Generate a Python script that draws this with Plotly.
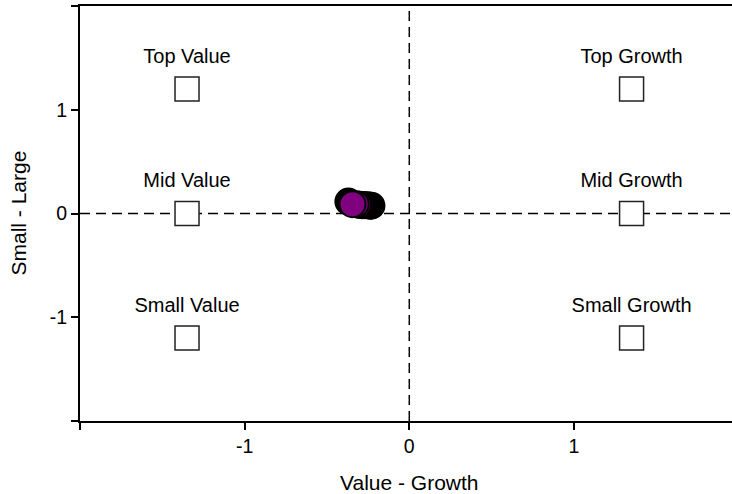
import plotly.graph_objects as go

# style-box anchors
box_x = [-1.35, -1.35, -1.35, 1.35, 1.35, 1.35]
box_y = [1.2, 0.0, -1.2, 1.2, 0.0, -1.2]
box_labels = ["Top Value", "Mid Value", "Small Value", "Top Growth", "Mid Growth", "Small Growth"]
label_y = [1.5, 0.3, -0.9, 1.5, 0.3, -0.9]

# rolling style positions, oldest first, latest last
drift_x = [-0.37, -0.23, -0.24, -0.255, -0.27, -0.285, -0.3, -0.31, -0.325, -0.345]
drift_y = [0.115, 0.075, 0.075, 0.08, 0.08, 0.08, 0.085, 0.085, 0.09, 0.09]
drift_color = ["black"] * 6 + ["purple"] * 4

tick_vals = [-2, -1, 0, 1, 2]
tick_text = ["", "-1", "0", "1", ""]

FONT = "Liberation Sans, Arial, sans-serif"

fig = go.Figure()
fig.add_trace(go.Scatter(
    x=box_x, y=box_y, mode="markers",
    marker=dict(symbol="square", size=24, color="white",
                line=dict(color="#222", width=1.5)),
    hoverinfo="skip",
))
fig.add_trace(go.Scatter(
    x=box_x, y=label_y, mode="text", text=box_labels,
    textfont=dict(family=FONT, size=20, color="black"),
    hoverinfo="skip",
))
fig.add_trace(go.Scatter(
    x=drift_x, y=drift_y, mode="markers",
    marker=dict(size=26, color=drift_color, line=dict(color="black", width=2)),
))

fig.add_shape(type="line", xref="x", yref="paper", x0=0, x1=0, y0=0, y1=1,
              line=dict(color="black", width=1.5, dash="10px,6px"), layer="below")
fig.add_shape(type="line", xref="paper", yref="y", x0=0, x1=1, y0=0, y1=0,
              line=dict(color="black", width=1.5, dash="10px,6px"), layer="below")

# axis titles placed by hand
fig.add_annotation(text="Value - Growth", xref="x", x=0, yref="paper", y=0,
                   yanchor="middle", yshift=-61, showarrow=False,
                   font=dict(family=FONT, size=21, color="black"))
fig.add_annotation(text="Small - Large", xref="paper", x=0, yref="paper", y=0.5,
                   xanchor="center", xshift=-62, textangle=-90, showarrow=False,
                   font=dict(family=FONT, size=21, color="black"))

axis_common = dict(
    showgrid=False, zeroline=False, showline=True, linecolor="black", linewidth=2,
    ticks="outside", ticklen=7, tickwidth=1.5, tickcolor="black",
    tickvals=tick_vals, ticktext=tick_text, mirror=True, automargin=False,
    tickfont=dict(family=FONT, size=19.5, color="black"),
)
fig.update_layout(
    width=732, height=494,
    margin=dict(l=80, r=0, t=6, b=73),
    paper_bgcolor="white", plot_bgcolor="white",
    showlegend=False,
    font=dict(family=FONT, size=19.5, color="black"),
    xaxis=dict(range=[-2, 1.96], **axis_common),
    yaxis=dict(range=[-2, 2], **axis_common),
)

# drop the default page margin so the figure sits at the window corner
fig.write_html(
    "out.html",
    config={"displayModeBar": False},
    post_script="document.body.style.margin='0';",
)
